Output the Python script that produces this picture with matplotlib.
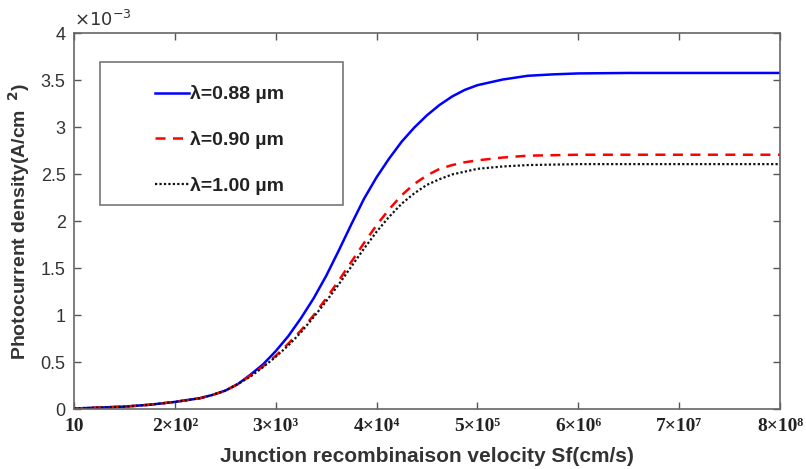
import numpy as np
import matplotlib
matplotlib.use("Agg")
import matplotlib.pyplot as plt
from matplotlib.patches import Rectangle
from matplotlib.ticker import FuncFormatter

# x positions are evenly spaced tick slots (1 -> 10, 2 -> 2x10^2, ...)
sf_pos = [1, 1.25, 1.5, 1.75, 2, 2.25, 2.375, 2.5, 2.625, 2.75, 2.875, 3, 3.125, 3.25, 3.375,
          3.5, 3.625, 3.75, 3.875, 4, 4.125, 4.25, 4.375, 4.5, 4.625, 4.75, 4.875, 5,
          5.25, 5.5, 5.75, 6, 6.5, 7, 7.5, 8]
tick_pos = [1, 2, 3, 4, 5, 6, 7, 8]
tick_labels = ["10", "2×10²", "3×10³", "4×10⁴", "5×10⁵", "6×10⁶", "7×10⁷", "8×10⁸"]

# photocurrent density, units of 1e-3 A/cm^2
j_088 = [0.01, 0.02, 0.03, 0.05, 0.08, 0.12, 0.155, 0.20, 0.27, 0.37, 0.48, 0.62, 0.78, 0.97, 1.18,
         1.42, 1.69, 1.97, 2.24, 2.47, 2.67, 2.85, 3.00, 3.13, 3.24, 3.33, 3.40, 3.45,
         3.51, 3.55, 3.565, 3.575, 3.58, 3.58, 3.58, 3.58]
j_090 = [0.01, 0.02, 0.03, 0.05, 0.08, 0.12, 0.155, 0.20, 0.27, 0.36, 0.46, 0.57, 0.70, 0.84, 1.00,
         1.18, 1.37, 1.57, 1.77, 1.96, 2.13, 2.28, 2.40, 2.49, 2.56, 2.60, 2.63, 2.65,
         2.68, 2.70, 2.705, 2.71, 2.71, 2.71, 2.71, 2.71]
j_100 = [0.01, 0.02, 0.03, 0.05, 0.08, 0.12, 0.155, 0.20, 0.27, 0.35, 0.45, 0.56, 0.68, 0.82, 0.98,
         1.15, 1.33, 1.52, 1.71, 1.89, 2.05, 2.19, 2.30, 2.39, 2.45, 2.50, 2.53, 2.56,
         2.585, 2.60, 2.605, 2.61, 2.61, 2.61, 2.61, 2.61]
labels = ["λ=0.88 µm", "λ=0.90 µm", "λ=1.00 µm"]

sans = ["Liberation Sans", "DejaVu Sans"]
serif = ["Liberation Serif", "DejaVu Serif"]

fig = plt.figure(figsize=(8.06, 4.69), dpi=100)
ax = fig.add_axes([0.0918, 0.127, 0.8759, 0.8016])

ax.plot(sf_pos, j_088, color="#0000ff", lw=1.8, ls="-", label=labels[0])
ax.plot(sf_pos, j_090, color="#ff0000", lw=1.8, ls=(0, (4, 3)), label=labels[1])
ax.plot(sf_pos, j_100, color="#111111", lw=1.6, ls=(0, (1, 1)), label=labels[2])

ax.set_xlim(1, 8)
ax.set_ylim(0, 4)
ax.set_xticks(tick_pos)
ax.set_xticklabels(tick_labels, family=serif, fontsize=14, fontweight="bold", color="#222222")
ax.set_yticks(np.arange(0, 4.01, 0.5))
ax.yaxis.set_major_formatter(FuncFormatter(lambda v, p: f"{v:g}"))
for t in ax.get_yticklabels():
    t.set_family(sans)
    t.set_fontsize(13)
    t.set_color("#333333")

ax.tick_params(direction="in", length=5, width=1, color="#555555",
               top=True, right=True, pad=6)
for s in ax.spines.values():
    s.set_color("#666666")
    s.set_linewidth(1.2)

ax.set_xlabel("Junction recombinaison velocity Sf(cm/s)", family=sans, fontsize=15,
              fontweight="bold", color="#333333", labelpad=9)
ax.set_ylabel(r"Photocurrent density(A/cm$^{\ \ \mathbf{2}}$)", family=sans, fontsize=14,
              fontweight="bold", color="#333333", labelpad=6)

ax.text(0.0, 1.01, r"$\times10^{-3}$", transform=ax.transAxes, fontsize=13,
        color="#333333", ha="left", va="bottom")

# legend frame drawn separately, MATLAB style box
ax.add_patch(Rectangle((0.0368, 0.545), 0.344, 0.379, transform=ax.transAxes,
                       facecolor="white", edgecolor="#777777", lw=1.2, zorder=4))
leg = ax.legend(loc="upper left", bbox_to_anchor=(0.115, 0.862), frameon=False,
                prop={"family": sans, "weight": "bold", "size": 14},
                handlelength=1.75, handletextpad=0.05, labelspacing=1.42,
                borderaxespad=0, borderpad=0)
leg.set_zorder(5)
for t in leg.get_texts():
    t.set_color("#222222")

fig.savefig("out.png", dpi=100)
